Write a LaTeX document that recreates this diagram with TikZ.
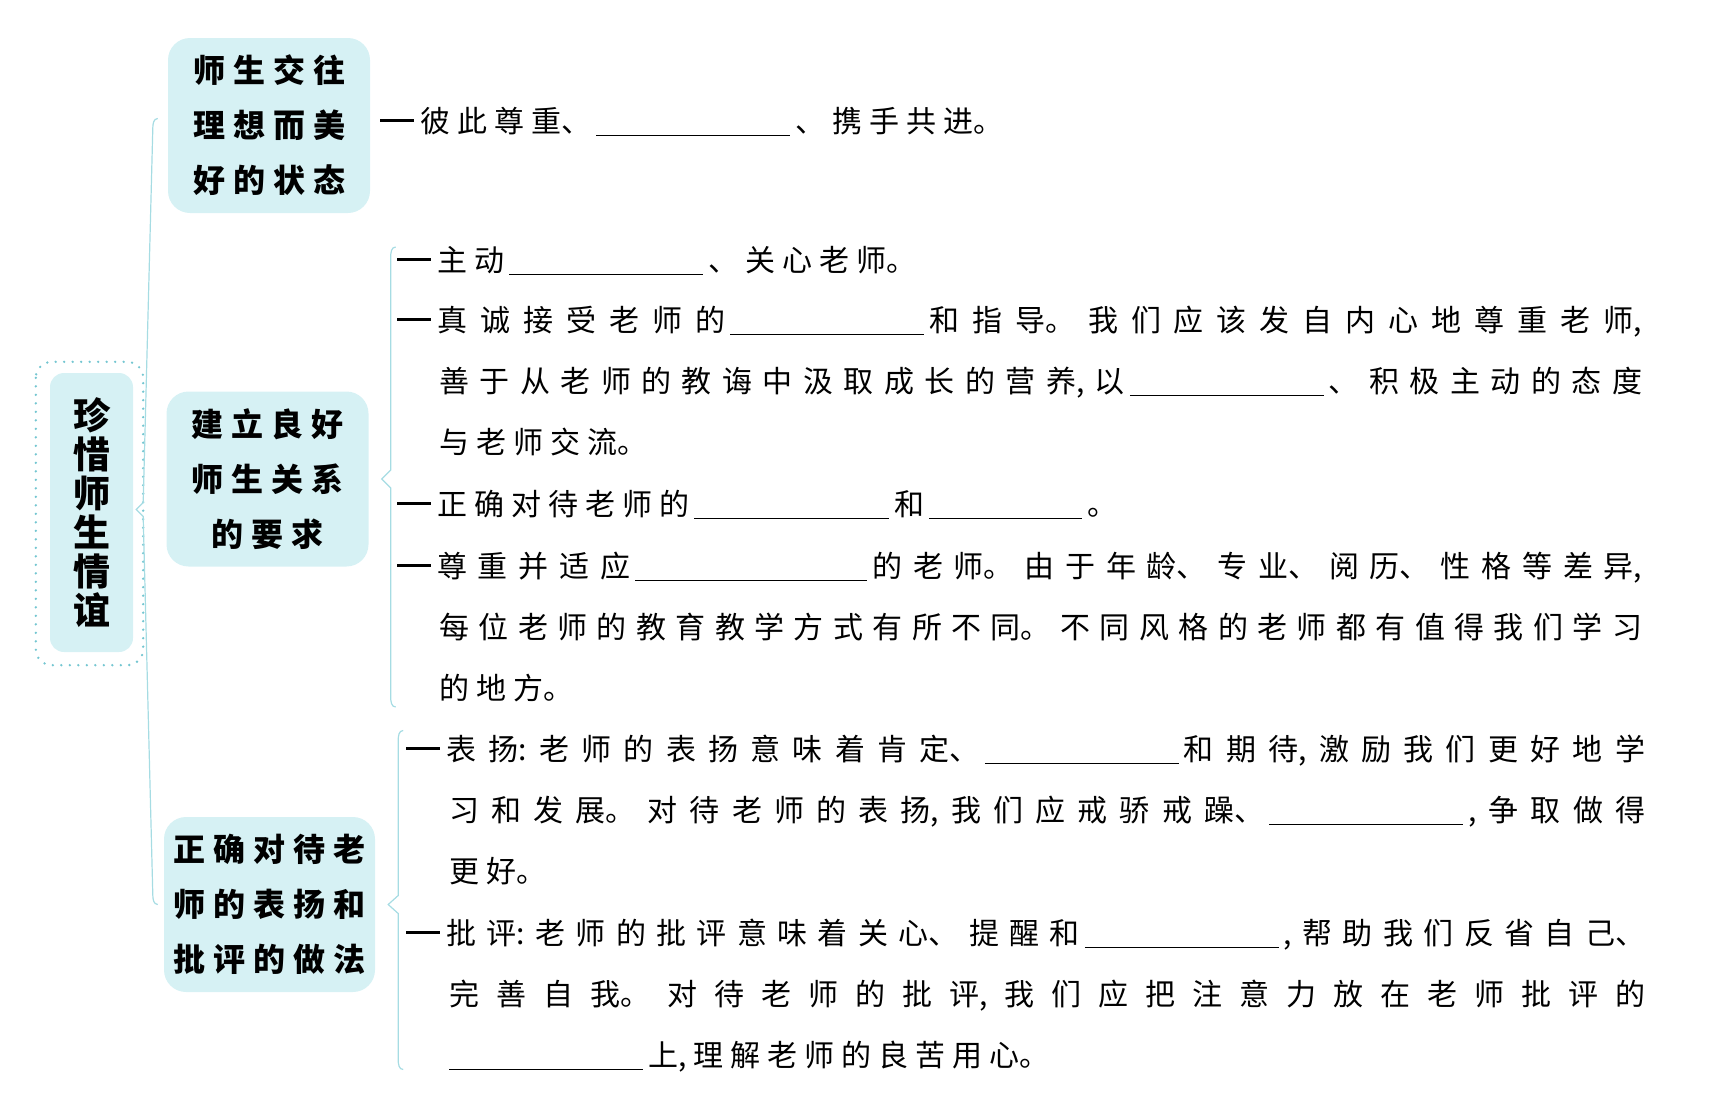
\documentclass[tikz,border=0pt]{standalone}
\usepackage{fontspec}
\setmainfont{Noto Sans CJK SC}
\usetikzlibrary{positioning, calc}
\definecolor{boxfill}{HTML}{D6F1F4}
\definecolor{brkline}{HTML}{A6DCE3}
\definecolor{dotline}{HTML}{74C6D1}
\XeTeXlinebreaklocale "zh"
\XeTeXlinebreakskip=7pt plus 8pt minus 2pt
\tolerance=10000
\newcommand{\fillblank}[1]{\hspace{5pt}\rule[-4pt]{#1pt}{1.3pt}\hspace{5pt}}
\newcommand{\lead}{\rule[10pt]{34pt}{3pt}\hspace{6pt}}

\begin{document}
\begin{tikzpicture}[x=1pt, y=-1pt,
    rootbox/.style={fill=boxfill, rounded corners=14pt, minimum width=83pt, minimum height=279pt,
                    align=center, inner sep=0pt, font=\bfseries\fontsize{37}{39}\selectfont},
    topic/.style={fill=boxfill, rounded corners=22pt, minimum width=202pt, minimum height=175pt, text width=200pt,
                  align=center, inner sep=0pt, font={\bfseries\fontsize{32}{55}\selectfont\XeTeXlinebreakskip=8pt}},
    itm/.style={anchor=base west, inner sep=0pt, align=justify, font={\fontsize{30}{61}\selectfont}},
    brk/.style={brkline, line width=1.2pt},
    dotframe/.style={dotline, line width=2.6pt, line cap=round, dash pattern=on 0pt off 8.5pt, rounded corners=16pt}]
    \useasboundingbox (0,0) rectangle (1719,1103);
    % root and the three topics
    \node[rootbox] (root) at (91.5,512.5) {珍\\惜\\师\\生\\情\\谊};
    \draw[dotframe] ([shift={(-14pt,11pt)}]root.north west) rectangle ([shift={(10pt,-13pt)}]root.south east);
    \node[topic] (state) at (269,125.5) {师生交往\\理想而美\\好的状态};
    \node[topic] (relation) at (267.5,479) {建立良好\\师生关系\\的要求};
    \node[topic, minimum width=211pt, text width=210pt] (attitude) at (269.5,904.5) {正确对待老\\师的表扬和\\批评的做法};
    % main bracket
    \coordinate (mtop) at ([xshift=-10pt,yshift=7pt]state.west);
    \coordinate (mtip) at ([xshift=3pt,yshift=3pt]root.east);
    \coordinate (mbot) at ([xshift=-6pt]attitude.west);
    \draw[brk] (mtop) to[out=180,in=90] ++(-5,10) -- ($(mtip)+(7,-7)$) -- (mtip) -- ($(mtip)+(7,7)$)
        -- ($(mbot)+(-5,-10)$) to[out=-90,in=180] (mbot);
    % first topic
    \node[itm, text width=1250pt] (respect) at (380,132) {\lead 彼此尊重、\fillblank{194}、携手共进。\par};
    % second topic
    \coordinate (rtip) at ([xshift=13pt]relation.east);
    \draw[brk] ($(rtip)+(14,-232)$) to[out=180,in=90] ($(rtip)+(9,-222)$) -- ($(rtip)+(9,-9)$) -- (rtip)
        -- ($(rtip)+(9,9)$) -- ($(rtip)+(9,218)$) to[out=-90,in=180] ($(rtip)+(14,228)$);
    \node[itm, text width=1245pt] (care) at (397,271) {\lead 主动\fillblank{194}、关心老师。\par};
    \node[itm, text width=1245pt] (accept) at (397,331) {\hangindent=42pt\hangafter=1 \lead 真诚接受老师的\fillblank{194}和指导。我们应该发自内心地尊重老师,\linebreak 善于从老师的教诲中汲取成长的营养,以\fillblank{194}、积极主动的态度\linebreak 与老师交流。\par};
    \node[itm, text width=1245pt] (treat) at (397,515) {\lead 正确对待老师的\fillblank{195}和\fillblank{153}。\par};
    \node[itm, text width=1245pt] (adapt) at (397,577) {\hangindent=42pt\hangafter=1 \lead 尊重并适应\fillblank{232}的老师。由于年龄、专业、阅历、性格等差异,\linebreak 每位老师的教育教学方式有所不同。不同风格的老师都有值得我们学习\linebreak 的地方。\par};
    % third topic
    \coordinate (atip) at ([xshift=13pt]attitude.east);
    \draw[brk] ($(atip)+(15,-174)$) to[out=180,in=90] ($(atip)+(10,-164)$) -- ($(atip)+(10,-9)$) -- (atip)
        -- ($(atip)+(10,9)$) -- ($(atip)+(10,155)$) to[out=-90,in=180] ($(atip)+(15,165)$);
    \node[itm, text width=1239pt] (praise) at (406,760) {\hangindent=43pt\hangafter=1 \lead 表扬:老师的表扬意味着肯定、\fillblank{194}和期待,激励我们更好地学\linebreak 习和发展。对待老师的表扬,我们应戒骄戒躁、\fillblank{194},争取做得\linebreak 更好。\par};
    \node[itm, text width=1239pt] (criticism) at (406,944) {\hangindent=43pt\hangafter=1 \lead 批评:老师的批评意味着关心、提醒和\fillblank{194},帮助我们反省自己、\linebreak 完善自我。对待老师的批评,我们应把注意力放在老师批评的\linebreak \fillblank{194}上,理解老师的良苦用心。\par};
\end{tikzpicture}
\end{document}
